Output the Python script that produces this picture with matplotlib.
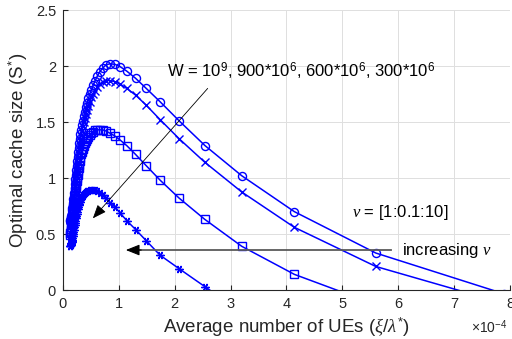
import matplotlib
matplotlib.use("Agg")
import matplotlib.pyplot as plt

plt.rcParams["font.family"] = ["Liberation Sans", "DejaVu Sans"]
plt.rcParams["mathtext.fontset"] = "custom"
plt.rcParams["mathtext.rm"] = "Liberation Sans"
plt.rcParams["mathtext.it"] = "Liberation Serif:italic"
plt.rcParams["mathtext.bf"] = "Liberation Sans:bold"

# average number of UEs (x 1e-4), one value per nu, nu = 1 ... 10 (right to left)
avg_ues = [7.9, 5.6, 4.14, 3.2, 2.54, 2.08, 1.74, 1.49, 1.30, 1.14, 1.02, 0.93, 0.84,
           0.77, 0.71, 0.66, 0.615, 0.575, 0.54, 0.51, 0.48, 0.455, 0.43, 0.41, 0.39,
           0.372, 0.355, 0.34, 0.326, 0.313, 0.30, 0.29, 0.28, 0.27, 0.26, 0.252, 0.244,
           0.236, 0.228, 0.221, 0.214, 0.207, 0.2, 0.194, 0.188, 0.182, 0.176, 0.17,
           0.165, 0.16, 0.155, 0.15, 0.146, 0.142, 0.138, 0.134, 0.13]

# optimal cache size for each bandwidth W
s_w1000 = [-0.035, 0.33, 0.70, 1.02, 1.29, 1.51, 1.68, 1.80, 1.89, 1.955, 1.995, 2.015, 2.02,
           2.01, 1.98, 1.95, 1.91, 1.87, 1.83, 1.79, 1.75, 1.71, 1.67, 1.63, 1.59,
           1.55, 1.51, 1.47, 1.43, 1.39, 1.35, 1.31, 1.27, 1.23, 1.19, 1.15, 1.11,
           1.07, 1.03, 0.99, 0.95, 0.91, 0.87, 0.84, 0.81, 0.78, 0.755, 0.73,
           0.71, 0.69, 0.675, 0.66, 0.65, 0.64, 0.63, 0.625, 0.62]
s_w900 = [-0.12, 0.21, 0.56, 0.875, 1.14, 1.35, 1.52, 1.65, 1.74, 1.80, 1.84, 1.86, 1.87,
          1.87, 1.86, 1.84, 1.81, 1.78, 1.75, 1.72, 1.68, 1.645, 1.61, 1.575, 1.54,
          1.50, 1.46, 1.42, 1.38, 1.34, 1.30, 1.26, 1.22, 1.18, 1.14, 1.10, 1.06,
          1.02, 0.98, 0.94, 0.90, 0.86, 0.82, 0.79, 0.76, 0.73, 0.705, 0.68,
          0.66, 0.64, 0.625, 0.61, 0.60, 0.59, 0.58, 0.57, 0.56]
s_w600 = [-0.55, -0.13, 0.14, 0.39, 0.63, 0.82, 0.98, 1.11, 1.21, 1.29, 1.34, 1.375, 1.40,
          1.42, 1.43, 1.43, 1.43, 1.425, 1.415, 1.40, 1.385, 1.37, 1.35, 1.33, 1.31,
          1.285, 1.26, 1.235, 1.21, 1.18, 1.15, 1.12, 1.09, 1.06, 1.03, 1.0, 0.97,
          0.94, 0.91, 0.88, 0.85, 0.82, 0.79, 0.76, 0.73, 0.70, 0.675, 0.65,
          0.625, 0.60, 0.58, 0.56, 0.545, 0.53, 0.515, 0.505, 0.495]
s_w300 = [-1.1, -0.7, -0.5, -0.2, 0.03, 0.19, 0.31, 0.44, 0.54, 0.62, 0.69, 0.74, 0.78,
          0.82, 0.85, 0.87, 0.88, 0.89, 0.89, 0.89, 0.89, 0.885, 0.88, 0.875, 0.865,
          0.855, 0.845, 0.83, 0.815, 0.80, 0.785, 0.77, 0.755, 0.74, 0.72, 0.70, 0.68,
          0.66, 0.64, 0.62, 0.60, 0.58, 0.56, 0.54, 0.52, 0.50, 0.48, 0.465,
          0.45, 0.44, 0.43, 0.42, 0.41, 0.405, 0.40, 0.395, 0.39]

x_ticks = [0, 1, 2, 3, 4, 5, 6, 7, 8]
y_ticks = [0, 0.5, 1, 1.5, 2, 2.5]
y_tick_labels = ["0", "0.5", "1", "1.5", "2", "2.5"]

AX_COLOR = "#262626"

fig = plt.figure(figsize=(5.12, 3.39), dpi=100)
ax = fig.add_axes([0.123, 0.1445, 0.873, 0.826])

series = [(s_w1000, "o"), (s_w900, "x"), (s_w600, "s"), (s_w300, (6, 2, 90))]
for ys, mk in series:
    ax.plot(avg_ues, ys, color="blue", lw=1.1, marker=mk, markersize=5.8,
            markerfacecolor="none", markeredgecolor="blue", markeredgewidth=1.0)

ax.set_xlim(0, 8)
ax.set_ylim(0, 2.5)
ax.set_xticks(x_ticks)
ax.set_yticks(y_ticks)
ax.set_yticklabels(y_tick_labels)
ax.grid(True, color="#dfdfdf", lw=0.7)
ax.set_axisbelow(True)
for side in ("top", "right"):
    ax.spines[side].set_visible(False)
for side in ("left", "bottom"):
    ax.spines[side].set_color(AX_COLOR)
    ax.spines[side].set_linewidth(0.8)
ax.tick_params(direction="in", length=3.5, width=0.8, colors=AX_COLOR,
               labelsize=10.5, pad=5)

ax.set_xlabel(r"Average number of UEs ($\xi/\lambda^{*}$)", fontsize=13.5,
              color=AX_COLOR, labelpad=3)
ax.set_ylabel(r"Optimal cache size (S$^{*}$)", fontsize=13.5, color=AX_COLOR,
              labelpad=4)
ax.text(0.995, -0.132, r"$\times$10$^{-4}$", transform=ax.transAxes, ha="right",
        va="center", fontsize=10, color=AX_COLOR)

# annotations
ax.text(1.86, 1.95, r"W = 10$^{9}$, 900*10$^{6}$, 600*10$^{6}$, 300*10$^{6}$",
        fontsize=12, va="center", ha="left")
ax.annotate("", xy=(0.535, 0.64), xytext=(2.59, 1.80),
            arrowprops=dict(arrowstyle="-|>,head_length=0.7,head_width=0.28",
                            color="black", lw=0.6, mutation_scale=12,
                            shrinkA=0, shrinkB=0))
ax.text(5.18, 0.69, r"$\nu$ = [1:0.1:10]", fontsize=12, va="center", ha="left")
ax.plot([1.25, 5.875], [0.357, 0.357], color="#5a5a5a", lw=1.3)
ax.annotate("", xy=(1.125, 0.357), xytext=(1.4, 0.357),
            arrowprops=dict(arrowstyle="-|>,head_length=0.7,head_width=0.28",
                            color="black", lw=0.8, mutation_scale=12,
                            shrinkA=0, shrinkB=0))
ax.text(6.07, 0.357, r"increasing $\nu$", fontsize=12, va="center", ha="left")

fig.savefig("out.png", dpi=100)
